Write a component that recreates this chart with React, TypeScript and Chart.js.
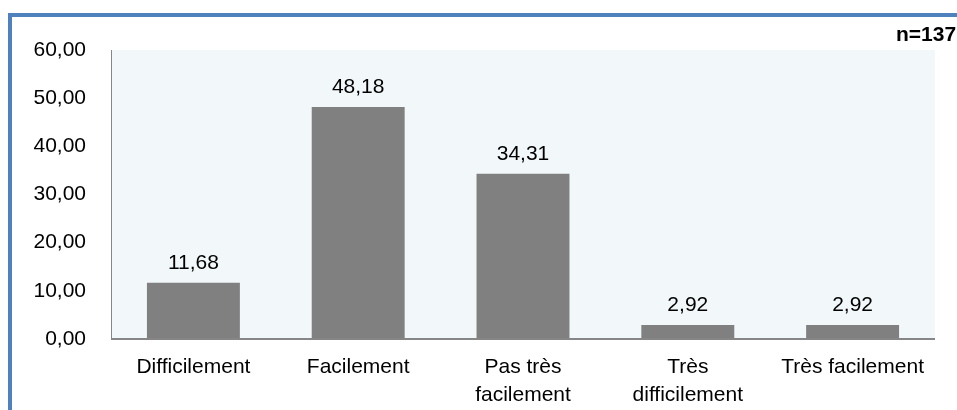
import React, { useEffect, useRef } from "react";
import { Chart, registerables } from "chart.js";

Chart.register(...registerables);

const categories: (string | string[])[] = [
  "Difficilement",
  "Facilement",
  ["Pas très", "facilement"],
  ["Très", "difficilement"],
  "Très facilement",
];
const percentages: number[] = [11.68, 48.18, 34.31, 2.92, 2.92];
const yTicks: number[] = [0, 10, 20, 30, 40, 50, 60];
const sampleNote = "n=137";

const FONT = "'Liberation Sans', Arial, sans-serif";
const fmt = (v: number) => v.toFixed(2).replace(".", ",");

// Frame, plot background and axis lines
const framePlugin = {
  id: "frame",
  beforeDraw(chart: any) {
    const { ctx, chartArea } = chart;
    ctx.save();
    ctx.fillStyle = "#ffffff";
    ctx.fillRect(0, 0, chart.width, chart.height);
    ctx.fillStyle = "#4f81bd";
    ctx.fillRect(8, 13, 4, chart.height);
    ctx.fillRect(8, 13, chart.width, 4);
    ctx.fillStyle = "#f2f7fa";
    ctx.fillRect(
      chartArea.left,
      chartArea.top,
      chartArea.right - chartArea.left,
      chartArea.bottom - chartArea.top
    );
    ctx.restore();
  },
  afterDatasetsDraw(chart: any) {
    const { ctx, chartArea } = chart;
    ctx.save();
    ctx.fillStyle = "#868686";
    ctx.fillRect(chartArea.left, chartArea.top, 1, chartArea.bottom - chartArea.top + 1);
    ctx.fillRect(chartArea.left, chartArea.bottom - 1, chartArea.right - chartArea.left, 2);

    // value labels above bars
    ctx.fillStyle = "#000000";
    ctx.font = `21px ${FONT}`;
    ctx.textAlign = "center";
    ctx.textBaseline = "alphabetic";
    const meta = chart.getDatasetMeta(0);
    meta.data.forEach((bar: any, i: number) => {
      ctx.fillText(fmt(percentages[i]), bar.x, bar.y - 14);
    });

    // sample size note
    ctx.font = `bold 21px ${FONT}`;
    ctx.textAlign = "left";
    ctx.fillText(sampleNote, 896, 41);
    ctx.restore();
  },
};

export default function App() {
  const canvasRef = useRef<HTMLCanvasElement | null>(null);

  useEffect(() => {
    if (!canvasRef.current) return;
    const chart = new Chart(canvasRef.current, {
      type: "bar",
      data: {
        labels: categories,
        datasets: [
          {
            data: percentages,
            backgroundColor: "#808080",
            borderWidth: 0,
            barPercentage: 0.564,
            categoryPercentage: 1,
          },
        ],
      },
      options: {
        responsive: false,
        animation: false,
        layout: { padding: { top: 50, right: 22, left: 0, bottom: 0 } },
        plugins: {
          legend: { display: false },
          tooltip: { enabled: false },
        },
        scales: {
          x: {
            grid: { display: false, drawTicks: false },
            border: { display: false },
            ticks: {
              color: "#000000",
              font: { family: FONT, size: 21, lineHeight: 28 / 21 },
              padding: 14,
              maxRotation: 0,
              autoSkip: false,
            },
            afterFit(scale: any) {
              scale.height = 71;
            },
          },
          y: {
            min: 0,
            max: 60,
            grid: { display: false, drawTicks: false },
            border: { display: false },
            afterBuildTicks(scale: any) {
              scale.ticks = yTicks.map((v) => ({ value: v }));
            },
            ticks: {
              color: "#000000",
              font: { family: FONT, size: 21 },
              padding: 25,
              callback: (v: any) => fmt(Number(v)),
            },
            afterFit(scale: any) {
              scale.width = 111;
            },
          },
        },
      },
      plugins: [framePlugin],
    });
    return () => chart.destroy();
  }, []);

  return (
    <div style={{ position: "fixed", left: 0, top: 0, width: 957, height: 410 }}>
      <canvas ref={canvasRef} width={957} height={410} />
    </div>
  );
}
